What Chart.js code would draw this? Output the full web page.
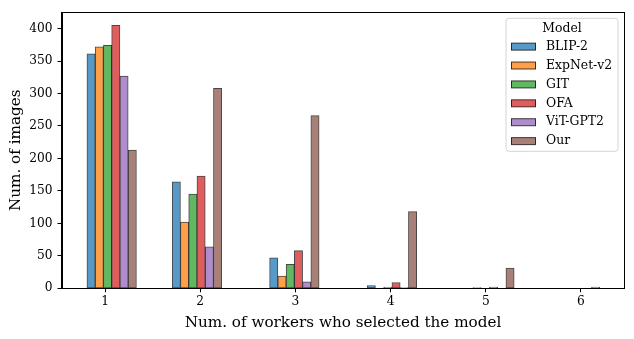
<!DOCTYPE html>
<html>
<head>
<meta charset="utf-8">
<script src="https://cdn.jsdelivr.net/npm/chart.js@4.4.1/dist/chart.umd.min.js"></script>
<style>
  html, body { margin: 0; padding: 0; background: #ffffff; }
  #wrap { width: 634px; height: 339px; position: relative; }
</style>
</head>
<body>
<div id="wrap"><canvas id="c" width="634" height="339"></canvas></div>
<script>
// ---- data ----
const categories = [1, 2, 3, 4, 5, 6];            // num. of workers (tick labels)
const binCenters = [1.07, 1.966, 2.989, 4.014, 5.038, 5.937]; // histogram bin centres (data units)
const seriesNames = ["BLIP-2", "ExpNet-v2", "GIT", "OFA", "ViT-GPT2", "Our"];
const blip2   = [361, 164, 47, 4, 0, 0];
const expnet  = [372, 102, 19, 0, 1, 0];
const git     = [374, 145, 37, 2, 0, 0];
const ofa     = [405, 173, 58, 9, 2, 0];
const vitgpt2 = [327, 64, 10, 1, 0, 0];
const our     = [213, 308, 266, 118, 31, 2];
const yTicks  = [0, 50, 100, 150, 200, 250, 300, 350, 400];

const seriesValues = [blip2, expnet, git, ofa, vitgpt2, our];
const colors = ["#5799c7", "#ff9f4a", "#61b861", "#e05d5e", "#af8dcd", "#a98078"];
const edge = "rgba(0,0,0,0.72)";
const FONT = "'DejaVu Serif', serif";
const TICK_SIZE = 12.2;
const LEG_SIZE = 12.4;
const TITLE_SIZE = 15.2;

const datasets = seriesNames.map((name, k) => ({
  label: name,
  data: binCenters.map((x, i) => ({ x: x, y: seriesValues[k][i] })),
  backgroundColor: colors[k],
  borderColor: edge,
  borderWidth: 1,
  borderSkipped: false,
  barThickness: 8.25
}));

const frameAndLegend = {
  id: 'frameAndLegend',
  afterDraw(chart) {
    const ctx = chart.ctx;
    const a = chart.chartArea;
    ctx.save();
    // full frame (spines)
    ctx.strokeStyle = '#000';
    ctx.lineWidth = 1;
    ctx.strokeRect(Math.round(a.left) + 0.5, Math.round(a.top) + 0.5,
                   Math.round(a.right - a.left) - 1, Math.round(a.bottom - a.top));
    // legend
    const w = 112, h = 133;
    const x0 = a.right - 6.5 - w, y0 = a.top + 6;
    const r = 3;
    ctx.beginPath();
    ctx.moveTo(x0 + r, y0);
    ctx.lineTo(x0 + w - r, y0);
    ctx.quadraticCurveTo(x0 + w, y0, x0 + w, y0 + r);
    ctx.lineTo(x0 + w, y0 + h - r);
    ctx.quadraticCurveTo(x0 + w, y0 + h, x0 + w - r, y0 + h);
    ctx.lineTo(x0 + r, y0 + h);
    ctx.quadraticCurveTo(x0, y0 + h, x0, y0 + h - r);
    ctx.lineTo(x0, y0 + r);
    ctx.quadraticCurveTo(x0, y0, x0 + r, y0);
    ctx.closePath();
    ctx.fillStyle = 'rgba(255,255,255,0.85)';
    ctx.fill();
    ctx.strokeStyle = '#d4d4d4';
    ctx.lineWidth = 1;
    ctx.stroke();
    ctx.fillStyle = '#000';
    ctx.font = LEG_SIZE + "px " + FONT;
    ctx.textBaseline = 'middle';
    ctx.textAlign = 'center';
    ctx.fillText('Model', x0 + w / 2, y0 + 10.7);
    ctx.textAlign = 'left';
    chart.data.datasets.forEach((ds, i) => {
      const cy = y0 + 28.3 + i * 18.9;
      ctx.fillStyle = ds.backgroundColor;
      ctx.fillRect(x0 + 5, cy - 3.5, 25, 7);
      ctx.strokeStyle = edge;
      ctx.strokeRect(x0 + 5.5, cy - 3.5, 24, 7);
      ctx.fillStyle = '#000';
      ctx.fillText(ds.label, x0 + 40, cy);
    });
    ctx.restore();
  }
};

new Chart(document.getElementById('c'), {
  type: 'bar',
  data: { datasets: datasets },
  options: {
    responsive: false,
    animation: false,
    layout: { padding: { top: 9, right: 9.5, left: 0, bottom: 0 } },
    plugins: { legend: { display: false }, tooltip: { enabled: false } },
    scales: {
      x: {
        type: 'linear',
        min: 0.543,
        max: 6.457,
        offset: false,
        grid: { drawOnChartArea: false, offset: false, color: '#000', tickLength: 4, tickColor: '#000' },
        border: { display: true, color: '#000', width: 1 },
        afterBuildTicks: (scale) => { scale.ticks = categories.map(v => ({ value: v })); },
        afterFit: (scale) => { scale.height = 50.7; },
        ticks: {
          color: '#000', padding: 2, maxRotation: 0, autoSkip: false,
          font: { family: FONT, size: TICK_SIZE },
          callback: (v) => String(v)
        },
        title: {
          display: true, text: 'Num. of workers who selected the model',
          color: '#000', font: { family: FONT, size: TITLE_SIZE },
          padding: { top: 0, bottom: 7 }
        }
      },
      y: {
        type: 'linear',
        min: 0,
        max: 425,
        grid: { drawOnChartArea: false, color: '#000', tickLength: 4, tickColor: '#000' },
        border: { display: true, color: '#000', width: 1 },
        afterBuildTicks: (scale) => { scale.ticks = yTicks.map(v => ({ value: v })); },
        afterFit: (scale) => { scale.width = 61.5; },
        ticks: {
          color: '#000', padding: 5,
          font: { family: FONT, size: TICK_SIZE }
        },
        title: {
          display: true, text: 'Num. of images',
          color: '#000', font: { family: FONT, size: TITLE_SIZE },
          padding: { top: 7, bottom: 0 }
        }
      }
    }
  },
  plugins: [frameAndLegend]
});
</script>
</body>
</html>
